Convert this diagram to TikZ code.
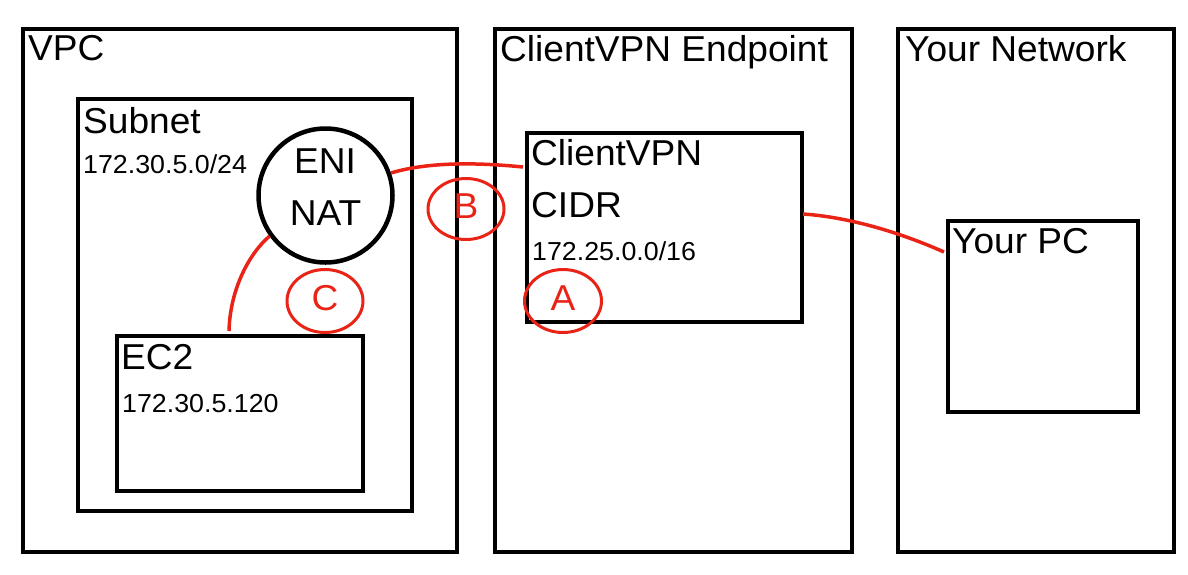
\documentclass[tikz,border=0pt]{standalone}
\usepackage{fontspec}
\setmainfont{Liberation Sans}[FakeStretch=1.03]
\usetikzlibrary{shapes.geometric}
\definecolor{mkred}{RGB}{233,36,23}
\tikzset{
  box/.style={draw=black, line width=4pt, rectangle, anchor=north west, inner sep=0pt},
  big/.style={font=\fontsize{36}{40}\selectfont, inner sep=0pt, anchor=base west},
  small/.style={font=\fontsize{26}{30}\selectfont, inner sep=0pt, anchor=base west},
  redmark/.style={draw=mkred, line width=3pt, ellipse, inner sep=0pt, text=mkred,
               font=\fontsize{36}{40}\selectfont, text depth=6pt},
  link/.style={draw=mkred, line width=3.5pt}
}
\begin{document}
\begin{tikzpicture}[x=1pt, y=-1pt]
\useasboundingbox (0,0) rectangle (1188,574);
% outer boxes
\node[box, minimum width=434pt, minimum height=523pt] (vpc) at (21,27) {};
\node[box, minimum width=357.5pt, minimum height=523pt] (endp) at (492.5,27) {};
\node[box, minimum width=275.5pt, minimum height=523pt] (net) at (896,27) {};
% inner boxes
\node[box, minimum width=334pt, minimum height=412pt] (subnet) at (76,97) {};
\node[box, minimum width=245.5pt, minimum height=155pt] (ec2) at (115,334) {};
\node[box, minimum width=275pt, minimum height=189pt] (cvpn) at (525,131) {};
\node[box, minimum width=189.5pt, minimum height=191pt] (pc) at (946,219) {};
% circle
\node[draw=black, line width=4.5pt, circle, minimum size=134pt, inner sep=0pt] (eni) at (325.5,195.5) {};
% texts
\node[big] (tvpc) at (28,60) {VPC};
\node[big] (tendp) at (500,61) {ClientVPN Endpoint};
\node[big] (tnet) at (905,61) {Your Network};
\node[big] (tsub) at (83,133) {Subnet};
\node[small] (tsubip) at (83,173) {172.30.5.0/24};
\node[big, anchor=base] (teni) at (325,173) {ENI};
\node[big, anchor=base] (tnat) at (325.5,225) {NAT};
\node[big] (tcvpn) at (531,165) {ClientVPN};
\node[big] (tcidr) at (531,217) {CIDR};
\node[small] (tcidrip) at (532,260) {172.25.0.0/16};
\node[big] (tec2) at (121,369) {EC2};
\node[small] (tec2ip) at (122,412) {172.30.5.120};
\node[big] (tpc) at (952,253) {Your PC};
% connection end points
\coordinate (cvpnW) at (523,167);
\coordinate (cvpnE) at (803,214);
\coordinate (pcW) at (944,252);
\coordinate (ec2N) at (229,331);
% red links
\draw[link] (eni.19) .. controls +(40,-12) and +(-40,-4) .. (cvpnW);
\draw[link] (cvpnE) .. controls +(45,3) and +(-45,-20) .. (pcW);
\draw[link] (eni.216) .. controls +(-20,17) and +(1,-42) .. (ec2N);
% markers
\node[redmark, minimum width=76pt, minimum height=61pt] (mb) at (466,209) {B};
\node[redmark, minimum width=76pt, minimum height=63pt] (mc) at (325,301) {C};
\node[redmark, minimum width=77pt, minimum height=63pt] (ma) at (563,301) {A};
\end{tikzpicture}
\end{document}
